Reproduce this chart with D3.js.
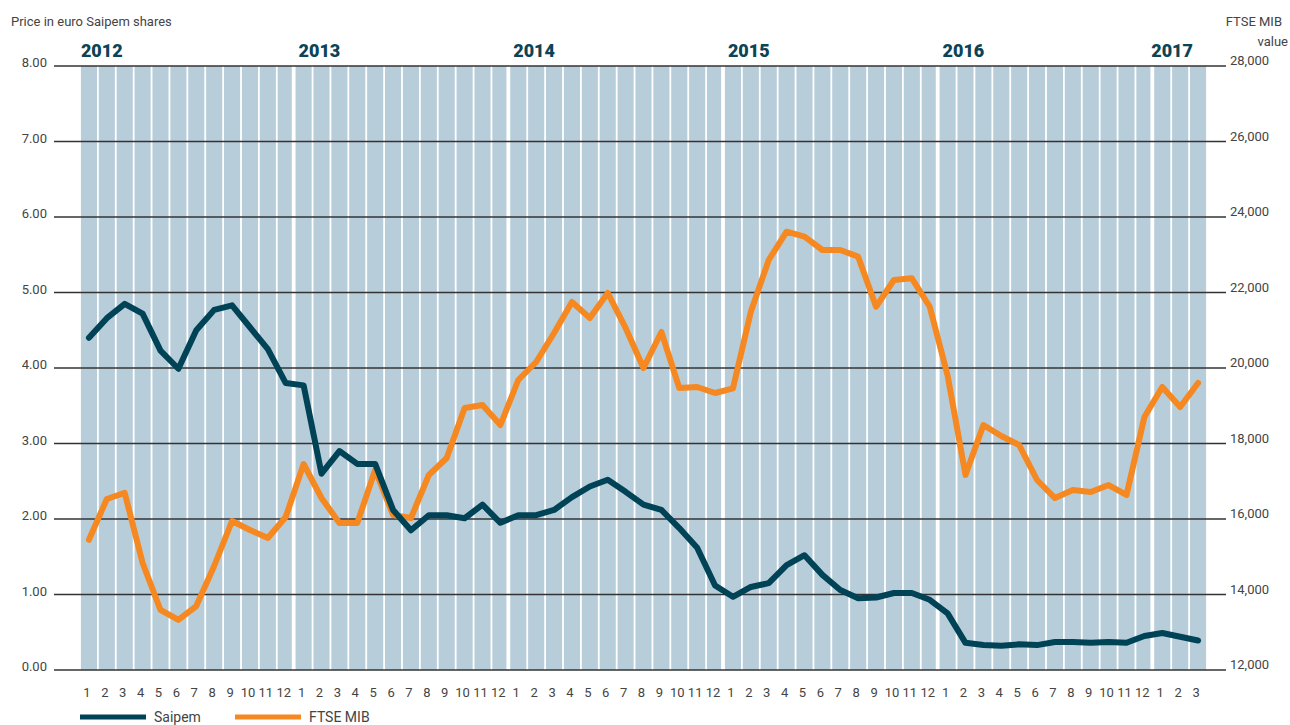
<!DOCTYPE html>
<html>
<head>
<meta charset="utf-8">
<script src="https://cdn.jsdelivr.net/npm/d3@7"></script>
<style>
  body { margin: 0; background: #fff; }
  svg { font-family: Roboto, "DejaVu Sans", sans-serif; }
</style>
</head>
<body>
<svg id="chart" width="1290" height="725"></svg>
<script>
var years = [2012, 2013, 2014, 2015, 2016, 2017];
var monthsPerYear = [12, 12, 12, 12, 12, 3];

// Saipem share price, euro
var saipem = [
  4.40, 4.66, 4.85, 4.72, 4.23, 3.99, 4.50, 4.77, 4.83, 4.54, 4.25, 3.80,
  3.77, 2.60, 2.90, 2.73, 2.73, 2.12, 1.85, 2.05, 2.05, 2.01, 2.19, 1.95,
  2.05, 2.05, 2.12, 2.29, 2.43, 2.52, 2.36, 2.19, 2.12, 1.88, 1.62, 1.12,
  0.97, 1.10, 1.15, 1.39, 1.52, 1.26, 1.06, 0.95, 0.96, 1.02, 1.02, 0.93,
  0.75, 0.36, 0.33, 0.32, 0.34, 0.33, 0.37, 0.37, 0.36, 0.37, 0.36, 0.45,
  0.49, 0.44, 0.39
];

// FTSE MIB index value
var ftse = [
  15450, 16530, 16690, 14835, 13590, 13325, 13695, 14755, 15947, 15709, 15497, 16053,
  17457, 16556, 15894, 15894, 17298, 16106, 16026, 17166, 17616, 18940, 19020, 18490,
  19682, 20159, 20927, 21748, 21324, 21987, 21060, 20000, 20954, 19470, 19497, 19338,
  19462, 21491, 22861, 23611, 23479, 23126, 23126, 22949, 21623, 22331, 22375, 21623,
  19800, 17166, 18490, 18200, 17960, 17033, 16556, 16768, 16715, 16900, 16636, 18702,
  19497, 18967, 19603
];

var leftTicks = [0, 1, 2, 3, 4, 5, 6, 7, 8];
var rightTicks = [12000, 14000, 16000, 18000, 20000, 22000, 24000, 26000, 28000];

var colSaipem = '#004356';
var colFtse = '#f58820';

// build month list from years
var months = [];
years.forEach(function(y, yi) {
  for (var m = 1; m <= monthsPerYear[yi]; m++) {
    months.push({ year: y, month: m, last: m === monthsPerYear[yi] });
  }
});

var svg = d3.select('#chart');

var x = d3.scaleBand()
  .domain(d3.range(months.length))
  .range([80, 1207])
  .paddingInner(0.1)
  .paddingOuter(0.05);

var yL = d3.scaleLinear().domain([0, 8]).range([670, 66]);
var yR = d3.scaleLinear().domain([12000, 28000]).range([670, 66]);

// month columns
svg.append('g').selectAll('rect')
  .data(months)
  .enter().append('rect')
  .attr('x', function(d, i) { return x(i); })
  .attr('y', yL(8))
  .attr('width', function(d, i) { return (d.last && d.year !== 2017) ? x.bandwidth() - 2 : x.bandwidth(); })
  .attr('height', yL(0) - yL(8))
  .attr('fill', '#b8cdda');

// grid lines
svg.append('g').selectAll('line')
  .data(leftTicks)
  .enter().append('line')
  .attr('x1', 54).attr('x2', 1226)
  .attr('y1', function(d) { return yL(d); })
  .attr('y2', function(d) { return yL(d); })
  .attr('stroke', '#333')
  .attr('stroke-width', 1.5);

// left axis labels
svg.append('g').selectAll('text')
  .data(leftTicks)
  .enter().append('text')
  .attr('x', 47)
  .attr('y', function(d) { return yL(d) + 1; })
  .attr('text-anchor', 'end')
  .attr('font-size', 13)
  .attr('fill', '#444')
  .text(function(d) { return d3.format('.2f')(d); });

// right axis labels
svg.append('g').selectAll('text')
  .data(rightTicks)
  .enter().append('text')
  .attr('x', 1230)
  .attr('y', function(d) { return yR(d) - 1; })
  .attr('font-size', 13)
  .attr('fill', '#444')
  .text(function(d) { return d3.format(',')(d); });

// month labels
svg.append('g').selectAll('text')
  .data(months)
  .enter().append('text')
  .attr('x', function(d, i) { return x(i) + x.bandwidth() / 2 - 2; })
  .attr('y', 697)
  .attr('text-anchor', 'middle')
  .attr('font-size', 13)
  .attr('fill', '#444')
  .text(function(d) { return d.month; });

// year labels
svg.append('g').selectAll('text')
  .data(years)
  .enter().append('text')
  .attr('x', function(y) {
    var idx = months.findIndex(function(m) { return m.year === y; });
    return y === 2017 ? x(idx) - 3 : x(idx) + (y === 2012 ? 0 : 3);
  })
  .attr('y', 57)
  .attr('font-size', 18)
  .attr('font-weight', 900)
  .attr('fill', '#0b4457')
  .text(function(y) { return y; });

// titles
svg.append('text')
  .attr('x', 11).attr('y', 26)
  .attr('font-size', 13)
  .attr('fill', '#444')
  .text('Price in euro Saipem shares');

svg.append('text')
  .attr('x', 1282).attr('y', 26)
  .attr('text-anchor', 'end')
  .attr('font-size', 13)
  .attr('fill', '#444')
  .text('FTSE MIB');

svg.append('text')
  .attr('x', 1288).attr('y', 46)
  .attr('text-anchor', 'end')
  .attr('font-size', 13)
  .attr('fill', '#444')
  .text('value');

// lines
var cx = function(i) { return x(i) + x.bandwidth() / 2; };

var lineSaipem = d3.line()
  .x(function(d, i) { return cx(i); })
  .y(function(d) { return yL(d); });

var lineFtse = d3.line()
  .x(function(d, i) { return cx(i); })
  .y(function(d) { return yR(d); });

svg.append('path')
  .datum(ftse)
  .attr('d', lineFtse)
  .attr('fill', 'none')
  .attr('stroke', colFtse)
  .attr('stroke-width', 6)
  .attr('stroke-linejoin', 'round')
  .attr('stroke-linecap', 'round');

svg.append('path')
  .datum(saipem)
  .attr('d', lineSaipem)
  .attr('fill', 'none')
  .attr('stroke', colSaipem)
  .attr('stroke-width', 6)
  .attr('stroke-linejoin', 'round')
  .attr('stroke-linecap', 'round');

// legend
var legend = [
  { name: 'Saipem', color: colSaipem, x: 80 },
  { name: 'FTSE MIB', color: colFtse, x: 235 }
];
var lg = svg.append('g').selectAll('g')
  .data(legend)
  .enter().append('g');
lg.append('line')
  .attr('x1', function(d) { return d.x; })
  .attr('x2', function(d) { return d.x + 66; })
  .attr('y1', 717).attr('y2', 717)
  .attr('stroke', function(d) { return d.color; })
  .attr('stroke-width', 5);
lg.append('text')
  .attr('x', function(d) { return d.x + 74; })
  .attr('y', 722)
  .attr('font-size', 14)
  .attr('fill', '#444')
  .text(function(d) { return d.name; });
</script>
</body>
</html>
